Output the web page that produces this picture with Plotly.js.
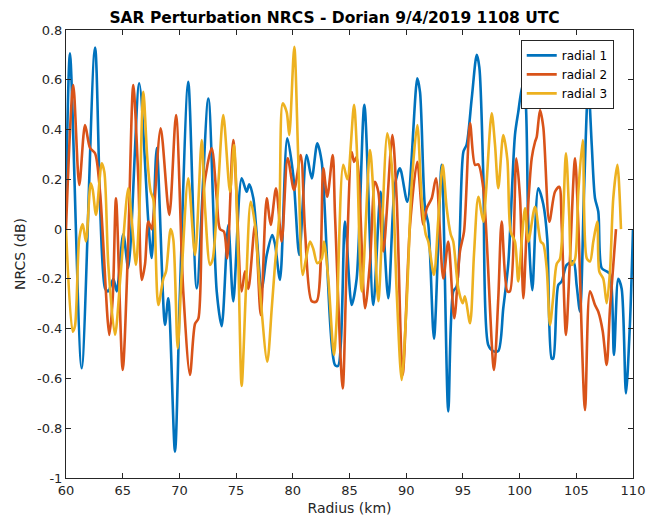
<!DOCTYPE html>
<html>
<head>
<meta charset="utf-8">
<script src="https://cdn.plot.ly/plotly-3.0.1.min.js"></script>
<style>
  html, body { margin: 0; padding: 0; background: #fff; }
  #plot { width: 656px; height: 519px; }
</style>
</head>
<body>
<div id="plot"></div>
<script>
// Perturbation NRCS along three radials (radius in km, NRCS in dB)
const radius1 = [60.0,60.35,61.38,62.56,63.44,63.73,64.17,64.47,65.05,65.49,66.46,67.26,67.56,68.0,68.73,69.02,69.61,70.05,70.78,71.53,72.55,73.29,73.73,74.31,74.75,75.49,75.93,76.16,76.52,77.26,77.70,78.19,78.43,78.87,79.51,80.04,80.57,81.22,81.67,82.16,82.55,83.72,83.99,84.60,85.19,85.63,86.31,87.10,87.75,88.42,89.01,89.45,90.10,90.98,91.22,91.66,91.95,92.45,93.13,93.71,94.15,94.45,95.04,95.33,95.78,96.22,96.45,96.80,97.24,97.68,98.12,98.56,99.0,99.59,99.88,100.27,100.48,100.77,101.12,101.65,102.09,102.44,102.83,102.97,103.41,103.71,104.15,104.74,105.03,105.33,105.68,106.06,106.36,106.65,106.94,107.24,107.68,107.97,108.32,108.70,109.0,109.38,109.73,110.0];
const nrcs1 = [0.1,0.706,-0.559,0.729,-0.237,-0.25,-0.2,-0.25,-0.02,-0.156,0.586,0.03,-0.116,0.326,-0.385,-0.278,-0.894,-0.25,0.592,-0.238,0.525,-0.25,-0.39,0.016,-0.29,0.204,0.15,0.18,0.124,-0.238,-0.104,-0.024,-0.06,-0.204,0.365,0.217,-0.104,0.298,0.204,0.345,0.27,-0.546,-0.55,0.03,-0.305,-0.2,0.499,-0.305,0.15,-0.278,0.177,0.244,0.11,0.606,0.55,0.084,0.02,-0.44,0.258,-0.733,-0.25,-0.23,0.31,0.34,0.526,0.7,0.65,0.217,-0.466,-0.49,-0.49,-0.318,-0.14,0.378,0.47,0.579,0.55,0.017,-0.245,0.164,0.1,-0.04,-0.52,-0.52,-0.225,-0.21,-0.144,-0.13,-0.225,-0.332,0.15,0.579,0.34,0.124,0.07,-0.157,-0.17,-0.18,-0.506,-0.2,-0.24,-0.66,-0.38,0.0];

const radius2 = [60.0,60.64,61.17,61.68,62.12,62.56,63.0,63.82,64.12,64.41,65.0,65.49,65.93,66.38,66.68,66.97,67.26,67.56,67.70,68.35,69.11,69.70,70.34,70.93,71.38,71.67,72.11,72.85,73.29,73.58,73.93,74.22,74.75,75.49,75.78,76.08,76.67,77.17,77.70,78.05,78.52,79.02,79.55,80.11,80.70,81.08,81.67,82.11,82.69,83.04,83.52,83.72,84.40,84.75,85.19,85.40,85.63,86.37,86.81,87.25,87.54,87.98,88.78,89.16,89.69,90.34,90.98,91.51,91.81,92.25,92.63,93.27,93.71,94.24,94.74,95.10,95.63,96.07,96.36,96.80,97.74,98.12,98.42,98.92,99.15,99.71,100.04,100.33,100.63,101.07,101.36,101.51,101.80,102.09,102.62,103.12,103.50,103.71,104.09,104.44,104.89,105.18,105.77,106.21,106.65,106.94,107.33,107.68,107.97,108.50];
const nrcs2 = [0.0,0.579,0.177,0.418,0.326,0.305,0.15,-0.425,-0.278,0.124,-0.566,-0.05,0.579,0.2,-0.204,-0.14,0.03,0.0,0.04,0.405,0.057,0.458,-0.25,-0.586,-0.38,-0.36,0.15,0.325,0.124,0.0,-0.01,-0.117,0.358,-0.25,-0.17,-0.24,0.017,-0.345,0.124,0.017,0.164,-0.05,0.285,0.157,0.298,-0.01,-0.29,-0.29,0.244,0.13,0.298,0.06,-0.64,-0.14,0.31,0.27,0.29,-0.318,-0.13,0.19,0.15,-0.09,0.378,0.124,-0.586,0.017,0.27,0.017,0.084,0.124,0.204,-0.198,-0.05,-0.358,-0.09,-0.01,0.425,0.258,0.26,0.164,-0.566,-0.278,0.03,-0.25,-0.25,0.285,0.124,-0.278,0.0,0.285,0.35,0.37,0.478,0.41,0.03,0.15,0.17,0.017,-0.425,-0.12,0.285,0.017,-0.727,-0.25,-0.305,-0.332,-0.41,-0.546,-0.32,0.0];

const radius3 = [60.0,60.59,60.79,61.17,61.47,61.76,62.18,62.35,62.65,63.15,63.38,63.73,64.32,64.82,65.49,65.79,66.17,66.46,66.82,67.17,67.47,67.70,68.14,68.58,68.82,69.23,69.46,69.85,70.20,70.78,71.38,71.97,72.26,72.70,72.94,73.43,73.87,74.46,74.81,75.19,75.49,75.87,76.29,76.67,77.11,77.75,78.14,78.43,78.81,79.11,79.46,79.69,80.13,80.48,80.87,81.16,81.52,81.81,82.16,82.55,82.75,83.13,83.63,83.87,84.45,84.81,85.40,85.63,86.08,86.81,87.10,87.54,88.33,88.72,89.16,89.60,90.04,90.48,90.98,91.36,91.72,91.95,92.45,92.83,93.22,93.57,93.92,94.15,94.59,94.98,95.18,95.63,95.98,96.36,96.80,97.04,97.54,97.83,98.12,98.56,98.92,99.21,99.59,99.88,100.18,100.48,100.77,101.36,101.86,102.09,102.39,102.68,102.97,103.27,103.56,104.09,104.38,104.59,104.89,105.18,105.57,105.92,106.21,106.50,106.85,107.03,107.38,107.68,107.97,108.26,108.62,108.94];
const nrcs3 = [0.0,-0.412,-0.39,-0.037,0.02,-0.05,0.184,0.16,0.057,0.264,0.23,-0.144,-0.425,-0.18,0.164,0.04,-0.144,0.07,0.552,0.285,0.15,0.12,-0.305,-0.2,-0.17,0.0,-0.04,-0.479,-0.18,0.204,-0.104,0.358,0.084,-0.144,-0.12,0.18,0.458,0.15,0.338,-0.117,-0.63,-0.24,0.11,0.017,-0.25,-0.533,-0.32,-0.144,0.057,0.505,0.47,0.378,0.733,0.285,-0.184,-0.12,-0.05,-0.08,-0.137,-0.12,-0.05,-0.2,-0.506,-0.36,0.258,0.2,0.499,0.34,-0.25,0.318,0.15,-0.29,0.385,0.258,-0.25,-0.606,-0.3,0.177,0.418,0.124,-0.02,-0.05,-0.184,0.04,0.258,0.084,-0.02,-0.05,-0.238,-0.298,-0.27,-0.378,-0.1,0.13,0.03,0.15,0.465,0.34,0.164,0.378,0.28,-0.01,-0.05,-0.21,-0.05,0.084,-0.05,0.09,-0.05,-0.06,-0.157,-0.385,-0.27,-0.14,-0.12,0.305,0.05,-0.144,-0.12,0.15,0.358,-0.117,-0.13,-0.05,0.03,-0.171,-0.2,-0.298,-0.17,0.124,0.258,0.0];

const seriesNames = ['radial 1', 'radial 2', 'radial 3'];
const seriesColors = ['#0072BD', '#D95319', '#EDB120'];

const xTicks = [60, 65, 70, 75, 80, 85, 90, 95, 100, 105, 110];
const yTicks = [-1, -0.8, -0.6, -0.4, -0.2, 0, 0.2, 0.4, 0.6, 0.8];
const yTickText = ['-1', '-0.8', '-0.6', '-0.4', '-0.2', '0', '0.2', '0.4', '0.6', '0.8'];

const radii = [radius1, radius2, radius3];
const values = [nrcs1, nrcs2, nrcs3];

const traces = radii.map((r, i) => ({
  x: r,
  y: values[i],
  type: 'scatter',
  mode: 'lines',
  name: seriesNames[i],
  line: { color: seriesColors[i], width: 2.6, shape: 'spline', smoothing: 0.8 }
}));

const axisCommon = {
  showline: true,
  mirror: 'ticks',
  linecolor: '#262626',
  linewidth: 1,
  ticks: 'inside',
  ticklen: 5,
  tickcolor: '#262626',
  showgrid: false,
  zeroline: false,
  tickfont: { family: 'DejaVu Sans', size: 13, color: '#262626' }
};

const layout = {
  width: 656,
  height: 519,
  margin: { l: 66, r: 23, t: 30, b: 41 },
  paper_bgcolor: '#ffffff',
  plot_bgcolor: '#ffffff',
  title: {
    text: '<b>SAR Perturbation NRCS - Dorian 9/4/2019 1108 UTC</b>',
    font: { family: 'DejaVu Sans', size: 15.5, color: '#000000' },
    x: 0.51, xanchor: 'center', y: 0.967, yanchor: 'middle'
  },
  xaxis: Object.assign({}, axisCommon, {
    range: [60, 110],
    tickvals: xTicks,
    ticktext: xTicks.map(String),
    title: { text: 'Radius (km)', font: { family: 'DejaVu Sans', size: 14, color: '#262626' }, standoff: 6 }
  }),
  yaxis: Object.assign({}, axisCommon, {
    range: [-1, 0.8],
    tickvals: yTicks,
    ticktext: yTickText,
    title: { text: 'NRCS (dB)', font: { family: 'DejaVu Sans', size: 14, color: '#262626' }, standoff: 8 }
  }),
  legend: {
    x: 0.802, y: 0.978, xanchor: 'left', yanchor: 'top',
    bgcolor: '#ffffff',
    bordercolor: '#262626',
    borderwidth: 1,
    font: { family: 'DejaVu Sans', size: 12, color: '#000000' },
    tracegroupgap: 0,
    itemwidth: 30
  },
  showlegend: true
};

Plotly.newPlot('plot', traces, layout, { displayModeBar: false, staticPlot: true });
</script>
</body>
</html>
